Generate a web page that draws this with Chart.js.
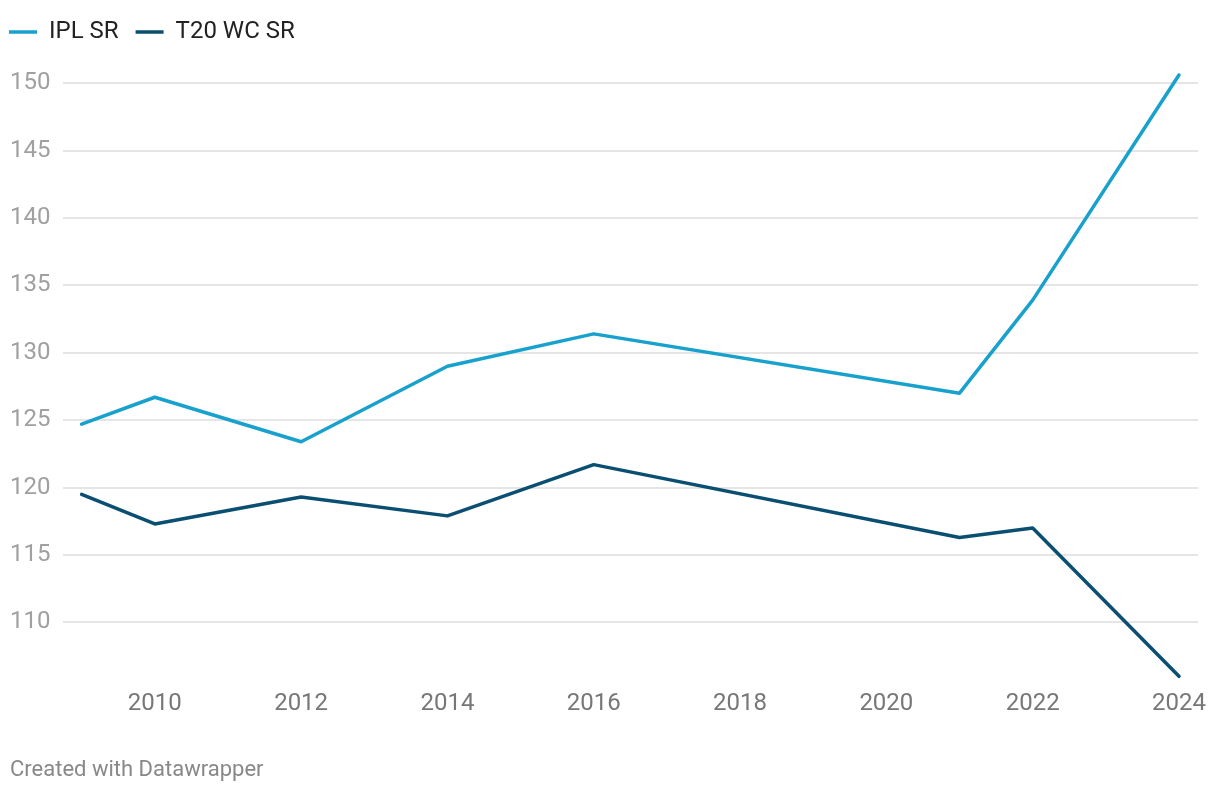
<!DOCTYPE html>
<html>
<head>
<meta charset="utf-8">
<script src="https://cdn.jsdelivr.net/npm/chart.js@4"></script>
<style>
  html, body { margin: 0; padding: 0; background: #fff; }
  #wrap { position: relative; width: 1220px; height: 794px; }
  #c { position: absolute; left: 0; top: 0; }
  #footer { position: absolute; left: 10px; top: 756px; font-family: Roboto, sans-serif; font-size: 22px; color: #888; }
</style>
</head>
<body>
<div id="wrap">
  <canvas id="c" width="1220" height="794"></canvas>
  <div id="footer">Created with Datawrapper</div>
</div>
<script>
const years = [2009, 2010, 2012, 2014, 2016, 2021, 2022, 2024];
const iplSR = [124.7, 126.7, 123.4, 129.0, 131.4, 127.0, 133.9, 150.6];
const t20wcSR = [119.5, 117.3, 119.3, 117.9, 121.7, 116.3, 117.0, 106.0];
const seriesNames = ['IPL SR', 'T20 WC SR'];
const yTicks = [110, 115, 120, 125, 130, 135, 140, 145, 150];
const xTicks = [2010, 2012, 2014, 2016, 2018, 2020, 2022, 2024];

const toPoints = (vals) => years.map((y, i) => ({ x: y, y: vals[i] }));

const legendShift = {
  id: 'legendShift',
  afterLayout(chart) {
    const lg = chart.legend;
    lg.left -= 18; lg.right -= 18;
    lg.top -= 21; lg.bottom -= 21;
  }
};

new Chart(document.getElementById('c'), {
  type: 'line',
  data: {
    datasets: [
      { label: seriesNames[0], data: toPoints(iplSR), borderColor: '#18a1cd', backgroundColor: '#18a1cd',
        borderWidth: 3.5, pointRadius: 0, tension: 0, borderCapStyle: 'round', borderJoinStyle: 'round', clip: false },
      { label: seriesNames[1], data: toPoints(t20wcSR), borderColor: '#0a4f72', backgroundColor: '#0a4f72',
        borderWidth: 3.5, pointRadius: 0, tension: 0, borderCapStyle: 'round', borderJoinStyle: 'round', clip: false }
    ]
  },
  options: {
    responsive: false,
    animation: false,
    layout: { padding: { left: 10, right: 22, top: 24, bottom: 0 } },
    plugins: {
      legend: {
        position: 'top', align: 'start',
        labels: {
          usePointStyle: true, pointStyle: 'line', pointStyleWidth: 28,
          padding: 17, color: '#222',
          font: { family: 'Roboto', size: 24 }
        }
      },
      tooltip: { enabled: false }
    },
    scales: {
      x: {
        type: 'linear', min: 2008.745, max: 2024.26,
        grid: { display: false, drawTicks: false },
        border: { display: false },
        afterBuildTicks(axis) { axis.ticks = xTicks.map(v => ({ value: v })); },
        afterFit(axis) { axis.height = 117; },
        ticks: { color: '#777', padding: 13, font: { family: 'Roboto', size: 24 }, maxRotation: 0,
                 callback: (v) => String(v) }
      },
      y: {
        min: 105.95, max: 150.6,
        grid: { color: '#e5e5e5', lineWidth: 2, drawTicks: false },
        border: { display: false },
        afterBuildTicks(axis) { axis.ticks = yTicks.map(v => ({ value: v })); },
        afterFit(axis) { axis.width = 53; },
        ticks: { color: '#a0a0a0', crossAlign: 'far', padding: 0, font: { family: 'Roboto', size: 24 },
                 callback: (v) => String(v) }
      }
    }
  },
  plugins: [legendShift]
});
</script>
</body>
</html>
